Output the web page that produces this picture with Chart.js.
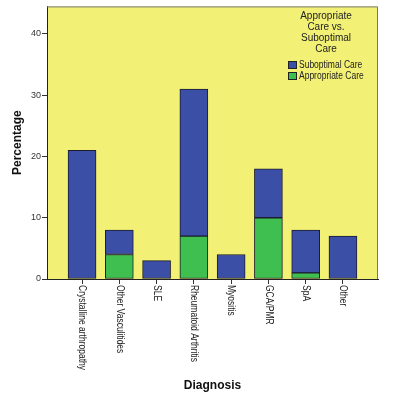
<!DOCTYPE html>
<html>
<head>
<meta charset="utf-8">
<script src="https://cdn.jsdelivr.net/npm/chart.js@4.4.1/dist/chart.umd.min.js"></script>
<style>
  html, body { margin: 0; padding: 0; background: #fff; }
  #wrap { width: 408px; height: 396px; }
</style>
</head>
<body>
<div id="wrap"><canvas id="chart" width="408" height="396"></canvas></div>
<script>
const diagnoses = ['Crystalline arthropathy', 'Other Vasculitides', 'SLE', 'Rheumatoid Arthritis', 'Myositis', 'GCA/PMR', 'SpA', 'Other']
const appropriate = [0, 4, 0, 7, 0, 10, 1, 0]
const suboptimal = [21, 4, 3, 24, 4, 8, 7, 7]
const yTicks = [0, 10, 20, 30, 40]
const legendTitle = ['Appropriate', 'Care vs.', 'Suboptimal', 'Care']

const BLUE = '#3b4fa6'
const GREEN = '#3fbf4f'
const YELLOW = '#f2f075'
const FONT = '"Liberation Sans", Arial, sans-serif'

// narrow text like the original export
function narrowText(ctx, text, x, y, squeeze) {
    ctx.save()
    ctx.translate(x, y)
    ctx.scale(squeeze, 1)
    ctx.fillText(text, 0, 0)
    ctx.restore()
}

const plotDecor = {
    id: 'plotDecor',
    beforeDraw(chart) {
        const { ctx, chartArea: a } = chart
        ctx.save()
        ctx.fillStyle = YELLOW
        ctx.fillRect(a.left, a.top, a.right - a.left, a.bottom - a.top)
        ctx.restore()
    },
    afterDraw(chart) {
        const { ctx, chartArea: a } = chart
        const x = chart.scales.x
        ctx.save()
        ctx.strokeStyle = '#777'
        ctx.lineWidth = 1
        ctx.beginPath()
        ctx.moveTo(a.left, a.top + 0.5)
        ctx.lineTo(a.right - 0.5, a.top + 0.5)
        ctx.lineTo(a.right - 0.5, a.bottom)
        ctx.stroke()

        // category labels, rotated clockwise
        ctx.fillStyle = '#222'
        ctx.font = '10px ' + FONT
        ctx.textAlign = 'left'
        ctx.textBaseline = 'middle'
        diagnoses.forEach((name, i) => {
            const px = x.getPixelForValue(i)
            ctx.save()
            ctx.translate(px, a.bottom + 6)
            ctx.rotate(Math.PI / 2)
            narrowText(ctx, name, 0, 0, 0.85)
            ctx.restore()
        })

        // legend
        const cx = 326
        ctx.textAlign = 'center'
        ctx.font = '10px ' + FONT
        legendTitle.forEach((line, i) => {
            ctx.fillText(line, cx, 16 + i * 11)
        })
        ctx.textAlign = 'left'
        const items = [chart.data.datasets[1], chart.data.datasets[0]]
        items.forEach((ds, i) => {
            const y = 61 + i * 11
            ctx.fillStyle = ds.backgroundColor
            ctx.fillRect(288, y, 9, 8)
            ctx.strokeStyle = '#222'
            ctx.strokeRect(288.5, y + 0.5, 8, 7)
            ctx.fillStyle = '#222'
            narrowText(ctx, ds.label, 299, y + 4.5, 0.85)
        })
        ctx.restore()
    }
}

new Chart(document.getElementById('chart'), {
    type: 'bar',
    data: {
        datasets: [
            {
                label: 'Appropriate Care',
                data: appropriate.map((v, i) => ({ x: i, y: v })),
                backgroundColor: GREEN
            },
            {
                label: 'Suboptimal Care',
                data: suboptimal.map((v, i) => ({ x: i, y: v })),
                backgroundColor: BLUE
            }
        ]
    },
    options: {
        responsive: false,
        animation: false,
        layout: { padding: { top: 4, right: 30, left: 0, bottom: 0 } },
        datasets: {
            bar: {
                barThickness: 28,
                borderWidth: 1,
                borderColor: '#1c1c2c',
                borderSkipped: false
            }
        },
        plugins: {
            legend: { display: false },
            tooltip: { enabled: false }
        },
        scales: {
            x: {
                type: 'linear',
                stacked: true,
                offset: false,
                min: -0.94,
                max: 7.94,
                afterFit: (axis) => { axis.height = 117 },
                grid: {
                    offset: false,
                    drawOnChartArea: false,
                    tickLength: 5,
                    color: '#333'
                },
                border: { color: '#222' },
                ticks: {
                    stepSize: 1,
                    includeBounds: false,
                    autoSkip: false,
                    maxRotation: 0,
                    callback: () => ''
                },
                title: {
                    display: true,
                    text: 'Diagnosis',
                    color: '#111',
                    font: { family: FONT, size: 12, weight: 'bold' },
                    padding: { bottom: 3 }
                }
            },
            y: {
                stacked: true,
                min: 0,
                max: 44.5,
                afterFit: (axis) => { axis.width = 47 },
                afterBuildTicks: (axis) => { axis.ticks = yTicks.map(v => ({ value: v })) },
                grid: {
                    drawOnChartArea: false,
                    tickLength: 5,
                    color: '#333'
                },
                border: { color: '#222' },
                ticks: {
                    color: '#333',
                    padding: 1,
                    font: { family: FONT, size: 9 }
                },
                title: {
                    display: true,
                    text: 'Percentage',
                    color: '#111',
                    font: { family: FONT, size: 12, weight: 'bold' },
                    padding: { top: 10 }
                }
            }
        }
    },
    plugins: [plotDecor]
})
</script>
</body>
</html>
